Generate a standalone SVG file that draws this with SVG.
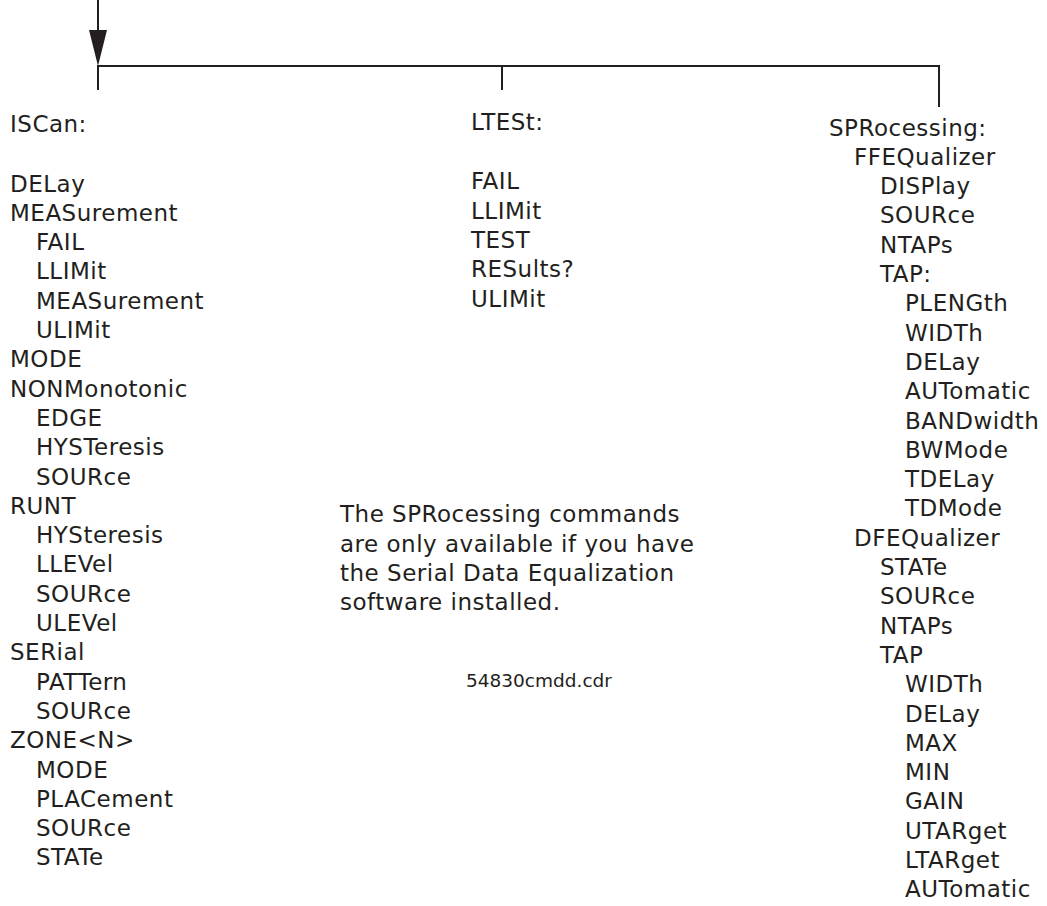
<svg xmlns="http://www.w3.org/2000/svg" width="1047" height="906" viewBox="0 0 1047 906">
<style>
text{font-family:"DejaVu Sans","Verdana","Liberation Sans",sans-serif;font-size:23px;letter-spacing:0.5px;fill:#231f20}
.small{font-size:18.5px;letter-spacing:0}
.ln{stroke:#231f20;stroke-width:2;fill:none}
</style>
<rect width="1047" height="906" fill="#ffffff"/>
<g id="connectors">
<line class="ln" x1="98" y1="0" x2="98" y2="40"/>
<polygon points="89,30 107,30 98,66" fill="#231f20"/>
<line class="ln" x1="97" y1="66" x2="940" y2="66"/>
<line class="ln" x1="98" y1="66" x2="98" y2="90"/>
<line class="ln" x1="502" y1="66" x2="502" y2="90"/>
<line class="ln" x1="939" y1="66" x2="939" y2="107"/>
</g>
<g id="iscan">
<text x="10" y="131.5">ISCan:</text>
<text x="10" y="191.5">DELay</text>
<text x="10" y="220.8">MEASurement</text>
<text x="36" y="250.1">FAIL</text>
<text x="36" y="279.4">LLIMit</text>
<text x="36" y="308.7">MEASurement</text>
<text x="36" y="338">ULIMit</text>
<text x="10" y="367.3">MODE</text>
<text x="10" y="396.6">NONMonotonic</text>
<text x="36" y="425.9">EDGE</text>
<text x="36" y="455.2">HYSTeresis</text>
<text x="36" y="484.5">SOURce</text>
<text x="10" y="513.8">RUNT</text>
<text x="36" y="543.1">HYSteresis</text>
<text x="36" y="572.4">LLEVel</text>
<text x="36" y="601.7">SOURce</text>
<text x="36" y="631">ULEVel</text>
<text x="10" y="660.3">SERial</text>
<text x="36" y="689.6">PATTern</text>
<text x="36" y="718.9">SOURce</text>
<text x="10" y="748.2">ZONE&lt;N&gt;</text>
<text x="36" y="777.5">MODE</text>
<text x="36" y="806.8">PLACement</text>
<text x="36" y="836.1">SOURce</text>
<text x="36" y="865.4">STATe</text>
</g>
<g id="ltest">
<text x="471" y="130">LTESt:</text>
<text x="471" y="189.3">FAIL</text>
<text x="471" y="218.6">LLIMit</text>
<text x="471" y="247.9">TEST</text>
<text x="471" y="277.2">RESults?</text>
<text x="471" y="306.5">ULIMit</text>
</g>
<g id="sprocessing">
<text x="829" y="135.5">SPRocessing:</text>
<text x="854" y="164.8">FFEQualizer</text>
<text x="880" y="194.1">DISPlay</text>
<text x="880" y="223.4">SOURce</text>
<text x="880" y="252.7">NTAPs</text>
<text x="880" y="282">TAP:</text>
<text x="905" y="311.3">PLENGth</text>
<text x="905" y="340.6">WIDTh</text>
<text x="905" y="369.9">DELay</text>
<text x="905" y="399.2">AUTomatic</text>
<text x="905" y="428.5">BANDwidth</text>
<text x="905" y="457.8">BWMode</text>
<text x="905" y="487.1">TDELay</text>
<text x="905" y="516.4">TDMode</text>
<text x="854" y="545.7">DFEQualizer</text>
<text x="880" y="575">STATe</text>
<text x="880" y="604.3">SOURce</text>
<text x="880" y="633.6">NTAPs</text>
<text x="880" y="662.9">TAP</text>
<text x="905" y="692.2">WIDTh</text>
<text x="905" y="721.5">DELay</text>
<text x="905" y="750.8">MAX</text>
<text x="905" y="780.1">MIN</text>
<text x="905" y="809.4">GAIN</text>
<text x="905" y="838.7">UTARget</text>
<text x="905" y="868">LTARget</text>
<text x="905" y="897.3">AUTomatic</text>
</g>
<g id="note">
<text x="340" y="522.4">The SPRocessing commands</text>
<text x="340" y="551.7">are only available if you have</text>
<text x="340" y="581">the Serial Data Equalization</text>
<text x="340" y="610.3">software installed.</text>
</g>
<g id="filename">
<text class="small" x="466" y="686.5">54830cmdd.cdr</text>
</g>
</svg>
